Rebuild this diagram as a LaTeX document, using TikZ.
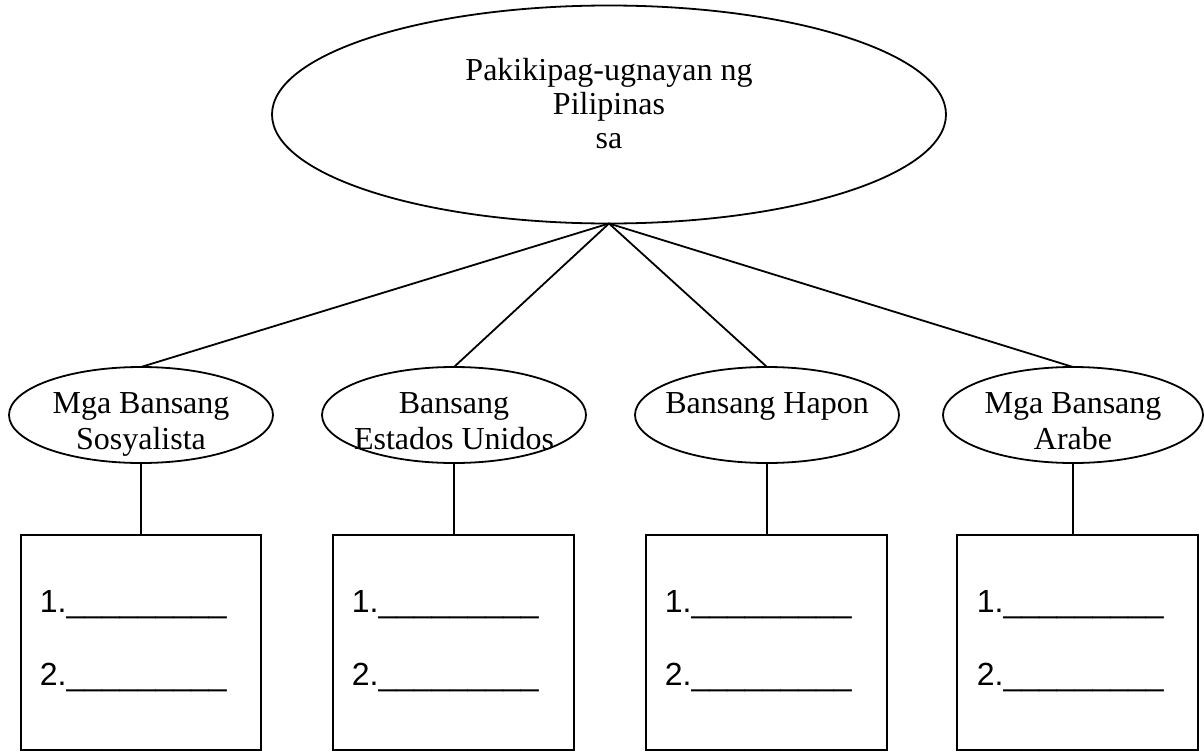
\documentclass[tikz,border=0pt]{standalone}
\usepackage{fontspec}
\setmainfont{Liberation Serif}
\newfontfamily\arialfont{Liberation Sans}
\usetikzlibrary{shapes.geometric}
\begin{document}
\begin{tikzpicture}[x=1pt,y=-1pt,line width=1.8pt,
  bigell/.style={draw,ellipse,inner sep=0pt,outer sep=0pt,minimum width=674pt,minimum height=218pt},
  smallell/.style={draw,ellipse,inner sep=0pt,outer sep=0pt,minimum width=264pt,minimum height=96pt},
  ansbox/.style={draw,rectangle,inner sep=0pt,outer sep=0pt,minimum width=240pt,minimum height=215pt},
  lbl/.style={inner sep=0pt,anchor=base,font=\fontsize{32}{37}\selectfont},
  itm/.style={inner sep=0pt,anchor=base west,font=\arialfont\fontsize{32}{37}\selectfont}]
\useasboundingbox (0,0) rectangle (1204,752);
% top ellipse
\node[bigell] (top) at (609,114.5) {};
\node[lbl] (t1) at (609,80) {Pakikipag-ugnayan ng};
\node[lbl] (t2) at (609,114) {Pilipinas};
\node[lbl] (t3) at (609,148) {sa};
% small ellipses
\node[smallell] (e1) at (141,415) {};
\node[smallell] (e2) at (454,415) {};
\node[smallell] (e3) at (767,415) {};
\node[smallell,minimum width=260pt] (e4) at (1073,415) {};
\node[lbl] (l1a) at (141,413) {Mga Bansang};
\node[lbl] (l1b) at (141,449) {Sosyalista};
\node[lbl] (l2a) at (454,413) {Bansang};
\node[lbl] (l2b) at (454,449) {Estados Unidos};
\node[lbl] (l3a) at (767,413) {Bansang Hapon};
\node[lbl] (l4a) at (1073,413) {Mga Bansang};
\node[lbl] (l4b) at (1073,449) {Arabe};
% boxes
\node[ansbox] (b1) at (141,642.5) {};
\node[ansbox,minimum width=241pt] (b2) at (453.5,642.5) {};
\node[ansbox,minimum width=241pt] (b3) at (766.5,642.5) {};
\node[ansbox,minimum width=241pt] (b4) at (1077.5,642.5) {};
\foreach \b/\x in {b1/39,b2/351,b3/664,b4/976}{
  \node[itm] (\b i1) at (\x,612) {1.\_\_\_\_\_\_\_\_\_};
  \node[itm] (\b i2) at (\x,685) {2.\_\_\_\_\_\_\_\_\_};
}
% connectors
\foreach \e in {e1,e2,e3,e4}{
  \draw (top.south) -- (\e.north);
}
\draw (e1.south) -- (e1.south |- b1.north);
\draw (e2.south) -- (e2.south |- b2.north);
\draw (e3.south) -- (e3.south |- b3.north);
\draw (e4.south) -- (e4.south |- b4.north);
\end{tikzpicture}
\end{document}
